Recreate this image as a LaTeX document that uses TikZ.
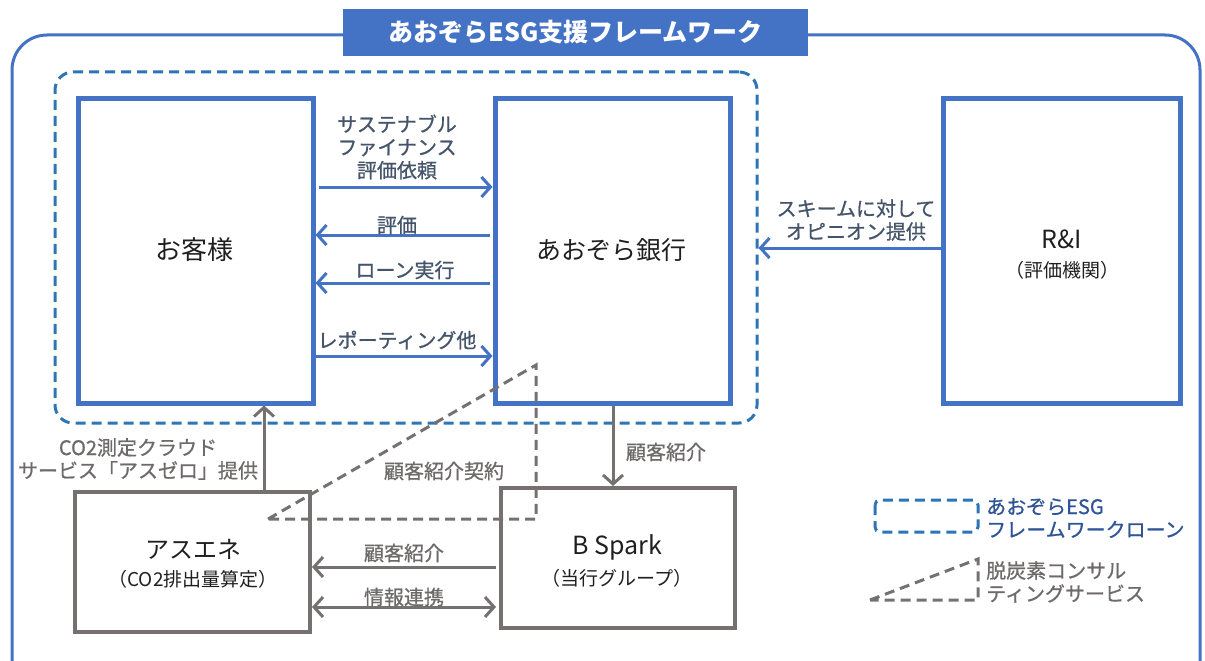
\documentclass[tikz,border=0pt]{standalone}
\usepackage{fontspec}
\setmainfont{Noto Sans CJK JP}
\newfontfamily\lblfont{Noto Sans CJK JP}[FakeBold=0.8]
\usetikzlibrary{arrows.meta}
\definecolor{mblue}{HTML}{4472C4}
\definecolor{dblue}{HTML}{2E75B6}
\definecolor{mgray}{HTML}{767171}
\definecolor{lbltxt}{HTML}{44546A}
\definecolor{gtxt}{HTML}{6E6A6A}
\definecolor{btxt}{HTML}{2F5597}
\definecolor{boxtxt}{HTML}{1F1F1F}
\tikzset{
  bluebox/.style={draw=mblue, line width=5pt, rectangle, align=center, text=boxtxt},
  graybox/.style={draw=mgray, line width=4pt, rectangle, align=center, text=boxtxt},
  barrow/.style={draw=mblue, line width=3pt, -{Straight Barb[length=9pt,width=20pt]}},
  garrow/.style={draw=mgray, line width=3pt, -{Straight Barb[length=9pt,width=20pt]}},
  lbl/.style={text=lbltxt, align=center, font=\lblfont\fontsize{20}{23}\selectfont, inner sep=0pt},
  glbl/.style={text=gtxt, align=center, font=\lblfont\fontsize{20}{23}\selectfont, inner sep=0pt},
  tridash/.style={draw=mgray, line width=3pt, dash pattern=on 10pt off 6pt},
  framedash/.style={draw=dblue, line width=3pt, dash pattern=on 10pt off 6pt, rounded corners=18pt}
}
\begin{document}
\begin{tikzpicture}[x=1pt,y=-1pt]
\useasboundingbox (0,0) rectangle (1205,661);
% outer frame
\draw[mblue, line width=3pt, rounded corners=35pt] (12,35) rectangle (1200,700);
% title
\node[fill=mblue, minimum width=465pt, minimum height=47pt, inner sep=0pt, text=white, font=\fontsize{25}{28}\selectfont\bfseries] (title) at (575.5,32.5) {あおぞらESG支援フレームワーク};
% dashed framework frame
\node[framedash, minimum width=702pt, minimum height=351pt, inner sep=0pt] (frame) at (406,247.5) {};
% boxes
\node[bluebox, minimum width=235pt, minimum height=305pt, inner sep=0pt] (cust) at (195.5,250.5) {};
\node[font=\fontsize{26}{30}\selectfont, text=boxtxt] (custlbl) at (194,250) {お客様};
\node[bluebox, minimum width=235pt, minimum height=305pt, inner sep=0pt] (bank) at (612.5,250.5) {};
\node[font=\fontsize{25}{30}\selectfont, text=boxtxt] (banklbl) at (611,250) {あおぞら銀行};
\node[bluebox, minimum width=237pt, minimum height=305pt, inner sep=0pt] (rai) at (1061.5,250.5) {};
\node[font=\fontsize{25}{30}\selectfont, text=boxtxt] (railbl) at (1062,239) {R\&I};
\node[font=\fontsize{19}{23}\selectfont, text=boxtxt] (railbl2) at (1062,270) {（評価機関）};
\node[graybox, minimum width=235pt, minimum height=140pt, inner sep=0pt] (asuene) at (192.5,562) {};
\node[font=\fontsize{24}{30}\selectfont, text=boxtxt] (asuenelbl) at (193,549) {アスエネ};
\node[font=\fontsize{19}{23}\selectfont, text=boxtxt] (asuenelbl2) at (193,579) {（CO2排出量算定）};
\node[graybox, minimum width=234pt, minimum height=140pt, inner sep=0pt] (bspark) at (618,558) {};
\node[font=\fontsize{25}{30}\selectfont, text=boxtxt] (bsparklbl) at (617,547) {B Spark};
\node[font=\fontsize{19}{23}\selectfont, text=boxtxt] (bsparklbl2) at (617,578) {（当行グループ）};
% helper coordinates
\coordinate (ya) at (0,187);
\coordinate (yb) at (0,235);
\coordinate (yc) at (0,283);
\coordinate (yd) at (0,356);
\coordinate (ye) at (0,248);
\coordinate (yf) at (0,567);
\coordinate (yg) at (0,607);
\coordinate (xa) at (264,0);
\coordinate (xb) at (613,0);
% blue arrows
\draw[barrow, shorten <=3pt] (cust.east |- ya) -- (bank.west |- ya);
\draw[barrow, shorten <=3pt] (bank.west |- yb) -- (cust.east |- yb);
\draw[barrow, shorten <=3pt] (bank.west |- yc) -- (cust.east |- yc);
\draw[barrow] (cust.east |- yd) -- (bank.west |- yd);
\draw[barrow] (rai.west |- ye) -- (frame.east |- ye);
% gray arrows
\draw[garrow] (bank.south -| xb) -- (bspark.north -| xb);
\draw[garrow] (asuene.north -| xa) -- (cust.south -| xa);
\draw[garrow, shorten <=3pt] (bspark.west |- yf) -- (asuene.east |- yf);
\draw[garrow, {Straight Barb[length=9pt,width=20pt]}-{Straight Barb[length=9pt,width=20pt]}, shorten >=3pt] (asuene.east |- yg) -- (bspark.west |- yg);
% dashed triangle
\draw[tridash] (268,519) -- (536,365) -- (536,519) -- cycle;
% labels
\node[lbl] (l1) at (397,147) {サステナブル\\ファイナンス\\評価依頼};
\node[lbl] (l2) at (397,225) {評価};
\node[lbl] (l3) at (405,270) {ローン実行};
\node[lbl] (l4) at (397,340) {レポーティング他};
\node[lbl] (l5) at (856,220) {スキームに対して\\オピニオン提供};
\node[glbl] (l6) at (666,452) {顧客紹介};
\node[glbl] (l7) at (138,459) {CO2測定クラウド\\サービス「アスゼロ」提供};
\node[glbl] (l8) at (444,471) {顧客紹介契約};
\node[glbl] (l9) at (404,553) {顧客紹介};
\node[glbl] (l10) at (404,597) {情報連携};
% legend
\draw[framedash, rounded corners=5pt] (875,500) rectangle (978,532);
\node[lbl, text=btxt, align=left, anchor=west] (lg1) at (986,518) {あおぞらESG\\フレームワークローン};
\draw[tridash] (870,600) -- (978,559) -- (978,600) -- cycle;
\node[glbl, align=left, anchor=west] (lg2) at (986,582) {脱炭素コンサル\\ティングサービス};
\end{tikzpicture}
\end{document}
